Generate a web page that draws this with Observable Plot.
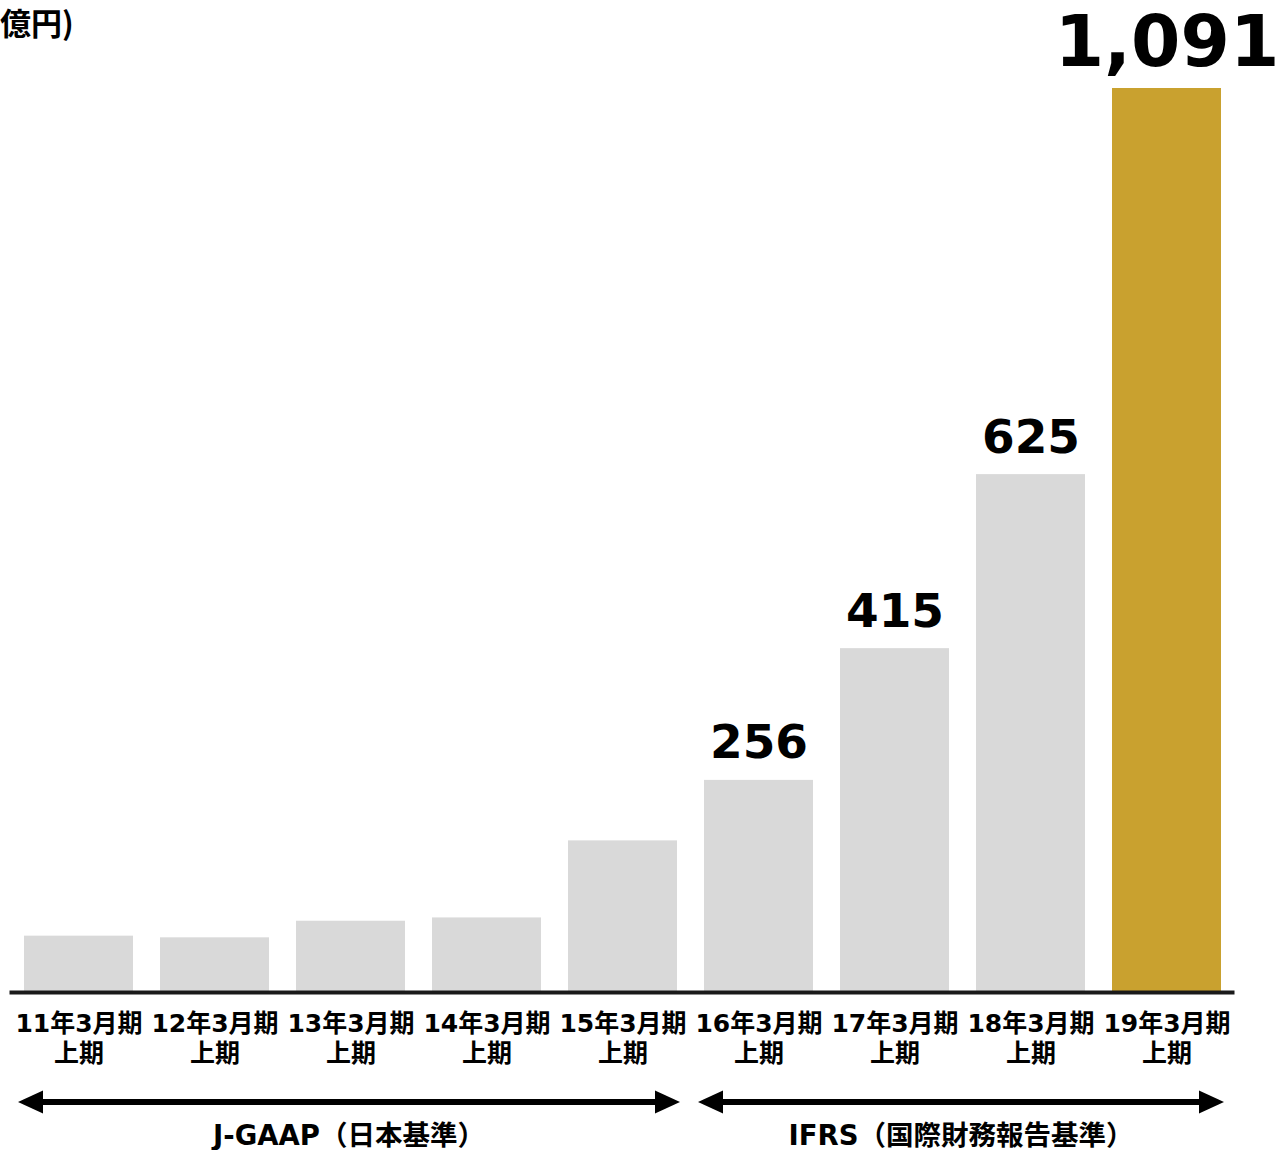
<!DOCTYPE html>
<html>
<head>
<meta charset="utf-8">
<script src="https://cdn.jsdelivr.net/npm/d3@7"></script>
<script src="https://cdn.jsdelivr.net/npm/@observablehq/plot@0.6"></script>
<style>
  body { margin: 0; background: #fff; }
  #wrap { position: relative; width: 1278px; height: 1150px; }
  #unit { position: absolute; left: 0; top: 3px; font-family: "Noto Sans CJK JP", sans-serif; font-weight: 700; font-size: 31px; color: #000; line-height: 1.2; }
  svg text { font-family: "DejaVu Sans", "Noto Sans CJK JP", sans-serif; }
</style>
</head>
<body>
<div id="wrap"><div id="unit">億円)</div></div>
<script>
// ---- data ----
const periods = ["11年3月期", "12年3月期", "13年3月期", "14年3月期", "15年3月期", "16年3月期", "17年3月期", "18年3月期", "19年3月期"];
const halfLabel = "上期";
const values = [68, 66, 86, 90, 183, 256, 415, 625, 1091];
const valueLabels = ["", "", "", "", "", "256", "415", "625", "1,091"];
const highlighted = "19年3月期";
const groupNames = ["J-GAAP（日本基準）", "IFRS（国際財務報告基準）"];
const groupFrom = ["11年3月期", "16年3月期"];
const groupTo = ["15年3月期", "19年3月期"];

const rows = periods.map((p, i) => ({period: p, value: values[i], label: valueLabels[i]}));
const groups = groupNames.map((n, i) => ({name: n, from: groupFrom[i], to: groupTo[i]}));

const FONT = "'DejaVu Sans', 'Noto Sans CJK JP', sans-serif";

const groupArrows = (index, scales, values, dimensions) => {
  const x = scales.x;
  const bw = typeof x.bandwidth === "function" ? x.bandwidth() : x.bandwidth;
  const yLine = dimensions.height - 48;
  const head = 25, half = 11.5;
  const g = d3.create("svg:g");
  for (const grp of groups) {
    const x1 = x(grp.from) - 6, x2 = x(grp.to) + bw + 3;
    g.append("line")
      .attr("x1", x1 + head - 2).attr("x2", x2 - head + 2)
      .attr("y1", yLine).attr("y2", yLine)
      .attr("stroke", "#000").attr("stroke-width", 6);
    g.append("path").attr("d", `M${x1},${yLine}L${x1 + head},${yLine - half}L${x1 + head},${yLine + half}Z`).attr("fill", "#000");
    g.append("path").attr("d", `M${x2},${yLine}L${x2 - head},${yLine - half}L${x2 - head},${yLine + half}Z`).attr("fill", "#000");
    g.append("text")
      .attr("x", (x1 + x2) / 2).attr("y", yLine + 43)
      .attr("text-anchor", "middle")
      .attr("font-size", 27.5).attr("font-weight", 700)
      .attr("font-family", FONT).attr("fill", "#000")
      .text(grp.name);
  }
  return g.node();
};

const chart = Plot.plot({
  width: 1278,
  height: 1150,
  marginLeft: 9.5,
  marginRight: 43.5,
  marginTop: 88,
  marginBottom: 158,
  style: {fontFamily: FONT, background: "#fff", overflow: "visible"},
  x: {domain: periods, paddingInner: 0.2, paddingOuter: 0.1, axis: null},
  y: {domain: [0, 1091], axis: null},
  marks: [
    Plot.barY(rows, {x: "period", y: "value", fill: d => d.period === highlighted ? "#c9a12f" : "#d9d9d9"}),
    Plot.ruleY([0], {stroke: "#1a1a1a", strokeWidth: 4}),
    Plot.text(rows.filter(d => d.label && d.period !== highlighted), {
      x: "period", y: "value", text: "label", lineAnchor: "bottom", dy: -22,
      fontSize: 47, fontWeight: 700, fill: "#000"
    }),
    Plot.text(rows.filter(d => d.period === highlighted), {
      x: "period", y: "value", text: "label", lineAnchor: "bottom", dy: -23,
      fontSize: 71, fontWeight: 700, fill: "#000"
    }),
    Plot.text(periods, {
      x: d => d, y: () => 0, text: d => d + "\n" + halfLabel,
      lineAnchor: "top", dy: 18, lineHeight: 1.2,
      fontSize: 25, fontWeight: 700, fill: "#000"
    }),
    groupArrows
  ]
});
document.getElementById("wrap").prepend(chart);
</script>
</body>
</html>
